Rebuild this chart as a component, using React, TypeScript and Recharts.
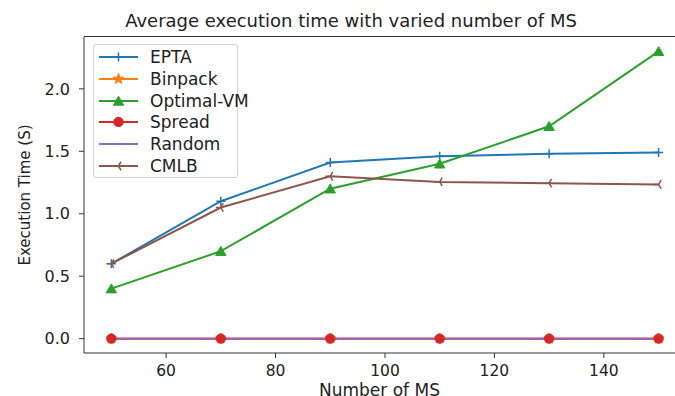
import { LineChart, Line, XAxis, YAxis, Legend } from 'recharts'

const msCounts = [50, 70, 90, 110, 130, 150]
const eptaTimes = [0.6, 1.1, 1.41, 1.46, 1.48, 1.49]
const binpackTimes = [0, 0, 0, 0, 0, 0]
const optimalTimes = [0.4, 0.7, 1.2, 1.4, 1.7, 2.3]
const spreadTimes = [0, 0, 0, 0, 0, 0]
const randomTimes = [0, 0, 0, 0, 0, 0]
const cmlbTimes = [0.6, 1.05, 1.3, 1.255, 1.245, 1.235]
const xTicks = [60, 80, 100, 120, 140]
const yTicks = [0, 0.5, 1, 1.5, 2]
const xDomain = [45, 153]
const yDomain = [-0.115, 2.415]

const data = msCounts.map((ms, i) => ({
  ms,
  EPTA: eptaTimes[i],
  Binpack: binpackTimes[i],
  'Optimal-VM': optimalTimes[i],
  Spread: spreadTimes[i],
  Random: randomTimes[i],
  CMLB: cmlbTimes[i]
}))

type Marker = 'plus' | 'star' | 'triangle' | 'circle' | 'none' | 'tri'

const series: { key: string; color: string; marker: Marker }[] = [
  { key: 'EPTA', color: '#1f77b4', marker: 'plus' },
  { key: 'Binpack', color: '#ff7f0e', marker: 'star' },
  { key: 'Optimal-VM', color: '#2ca02c', marker: 'triangle' },
  { key: 'Spread', color: '#d62728', marker: 'circle' },
  { key: 'Random', color: '#9467bd', marker: 'none' },
  { key: 'CMLB', color: '#8c564b', marker: 'tri' }
]

const starPath = (cx: number, cy: number, ro: number, ri: number) => {
  let d = ''
  for (let k = 0; k < 10; k++) {
    const r = k % 2 === 0 ? ro : ri
    const a = -Math.PI / 2 + (k * Math.PI) / 5
    d += `${k === 0 ? 'M' : 'L'}${cx + r * Math.cos(a)},${cy + r * Math.sin(a)}`
  }
  return d + 'Z'
}

const drawMarker = (marker: Marker, color: string, cx: number, cy: number, key?: string) => {
  switch (marker) {
    case 'plus':
      return (
        <path key={key} d={`M${cx - 4.5},${cy}H${cx + 4.5}M${cx},${cy - 4.5}V${cy + 4.5}`} stroke={color} strokeWidth={1.5} fill="none" />
      )
    case 'star':
      return <path key={key} d={starPath(cx, cy, 5.5, 2.3)} fill={color} stroke={color} />
    case 'triangle':
      return <path key={key} d={`M${cx},${cy - 4.8}L${cx + 5.2},${cy + 4.2}L${cx - 5.2},${cy + 4.2}Z`} fill={color} stroke={color} />
    case 'circle':
      return <circle key={key} cx={cx} cy={cy} r={4.7} fill={color} stroke={color} />
    case 'tri':
      return (
        <path
          key={key}
          d={`M${cx},${cy}L${cx - 5},${cy}M${cx},${cy}L${cx + 2.5},${cy - 4.3}M${cx},${cy}L${cx + 2.5},${cy + 4.3}`}
          stroke={color}
          strokeWidth={1.5}
          fill="none"
        />
      )
    default:
      return null
  }
}

const dotFor = (marker: Marker, color: string) => (props: any) => {
  const { cx, cy, index } = props
  if (cx == null || cy == null) return <g key={`e-${index}`} />
  return drawMarker(marker, color, cx, cy, `${marker}-${index}`)
}

const LegendBox = () => (
  <div
    style={{
      position: 'relative',
      width: 145,
      height: 134,
      boxSizing: 'border-box',
      border: '1px solid #d0d0d0',
      borderRadius: 3,
      background: 'rgba(255,255,255,0.8)'
    }}
  >
    {series.map((s, i) => (
      <div key={s.key} style={{ position: 'absolute', left: 0, top: 12 + i * 21.8 - 11, height: 22, width: 145 }}>
        <svg width={50} height={22} style={{ position: 'absolute', left: 4, top: 0 }}>
          <line x1={1} x2={40} y1={11} y2={11} stroke={s.color} strokeWidth={2} />
          {drawMarker(s.marker, s.color, 20.5, 11)}
        </svg>
        <span
          style={{
            position: 'absolute',
            left: 56,
            top: 0,
            lineHeight: '22px',
            fontSize: 17,
            color: '#222',
            whiteSpace: 'nowrap'
          }}
        >
          {s.key}
        </span>
      </div>
    ))}
  </div>
)

export default function App() {
  return (
    <div
      style={{
        position: 'absolute',
        left: 0,
        top: 0,
        width: 675,
        height: 396,
        background: '#fff',
        fontFamily: '"DejaVu Sans", sans-serif',
        overflow: 'hidden'
      }}
    >
      <div
        style={{
          position: 'absolute',
          left: 0,
          width: 702,
          top: 11,
          lineHeight: '20px',
          fontSize: 18,
          textAlign: 'center',
          color: '#222'
        }}
      >
        Average execution time with varied number of MS
      </div>
      <LineChart width={675} height={396} data={data} margin={{ top: 37, right: 0, bottom: 0, left: 0 }}>
        <XAxis
          dataKey="ms"
          type="number"
          domain={xDomain}
          allowDataOverflow
          ticks={xTicks}
          height={43}
          stroke="#333"
          tickSize={5}
          tickMargin={7}
          tick={{ fill: '#222', fontSize: 15.5 }}
          label={{ value: 'Number of MS', position: 'insideBottom', offset: 0, fill: '#222', fontSize: 17 }}
        />
        <YAxis
          type="number"
          domain={yDomain}
          allowDataOverflow
          ticks={yTicks}
          width={84}
          stroke="#333"
          tickSize={5}
          tickMargin={9}
          tickFormatter={(v: number) => v.toFixed(1)}
          tick={{ fill: '#222', fontSize: 16 }}
          label={{
            value: 'Execution Time (S)',
            angle: -90,
            position: 'insideLeft',
            offset: 25,
            fill: '#222',
            fontSize: 15,
            style: { textAnchor: 'middle' }
          }}
        />
        {series.map((s) => (
          <Line
            key={s.key}
            dataKey={s.key}
            stroke={s.color}
            strokeWidth={2}
            type="linear"
            dot={s.marker === 'none' ? false : dotFor(s.marker, s.color)}
            activeDot={false}
            isAnimationActive={false}
          />
        ))}
        <Legend
          layout="vertical"
          align="center"
          verticalAlign="middle"
          wrapperStyle={{ position: 'absolute', left: 93, top: 44, width: 145, height: 134 }}
          content={() => <LegendBox />}
        />
      </LineChart>
      {/* top spine of the axes frame */}
      <div style={{ position: 'absolute', left: 84, top: 36, width: 591, height: 1, background: '#333', zIndex: 2 }} />
    </div>
  )
}
